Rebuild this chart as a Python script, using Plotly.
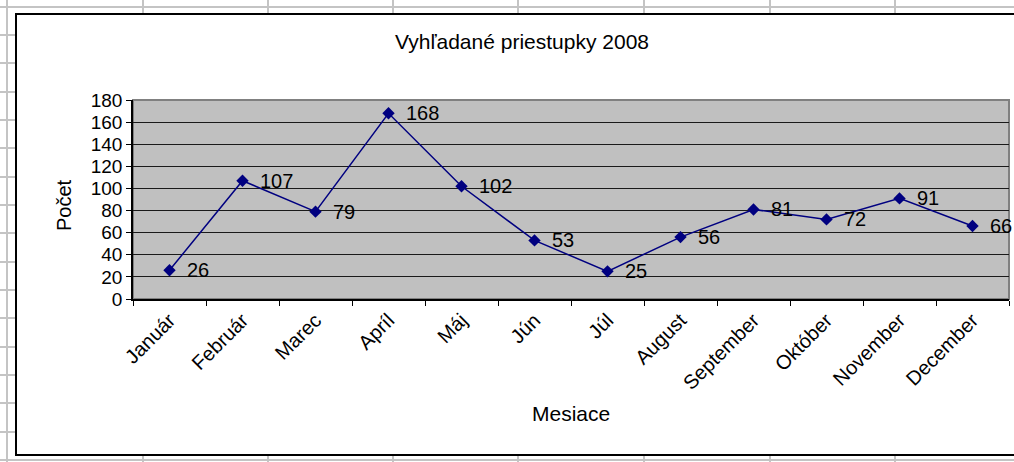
import plotly.graph_objects as go

# ---- data ----
months = ["Január", "Február", "Marec", "Apríl", "Máj", "Jún", "Júl",
          "August", "September", "Október", "November", "December"]
values = [26, 107, 79, 168, 102, 53, 25, 56, 81, 72, 91, 66]
title_text = "Vyhľadané priestupky 2008"
x_title = "Mesiace"
y_title = "Počet"
y_ticks = [0, 20, 40, 60, 80, 100, 120, 140, 160, 180]

W, H = 1014, 462
L, R, T, B = 133, 5, 100, 163
PW, PH = W - L - R, H - T - B
FONT = "Liberation Sans, Arial, sans-serif"
NAVY = "#000080"


def px(xp):
    return (xp - L) / PW


def py(yp):
    return (H - B - yp) / PH


fig = go.Figure()
fig.add_trace(go.Scatter(
    x=months, y=values, mode="lines+markers",
    line=dict(color=NAVY, width=1.5),
    marker=dict(symbol="diamond", size=9.5, color=NAVY),
    showlegend=False, hoverinfo="x+y",
))

shapes = []
# spreadsheet grid behind the chart object
for xv in [7, 143, 268, 393, 518, 644, 770, 895]:
    shapes.append(dict(type="line", xref="paper", yref="paper", layer="below",
                       x0=px(xv), x1=px(xv), y0=py(-5), y1=py(H + 5),
                       line=dict(color="#C4C4C4", width=2)))
for yv in [7, 35, 63, 92, 120, 148, 177, 205, 233, 262, 290, 318, 347, 375, 403, 432, 460]:
    shapes.append(dict(type="line", xref="paper", yref="paper", layer="below",
                       x0=px(-5), x1=px(W + 5), y0=py(yv), y1=py(yv),
                       line=dict(color="#C4C4C4", width=2)))
# chart frame
shapes.append(dict(type="rect", xref="paper", yref="paper", layer="below",
                   x0=px(16), x1=px(W + 10), y0=py(455), y1=py(14),
                   fillcolor="white", line=dict(color="black", width=2)))
# plot area
shapes.append(dict(type="rect", xref="paper", yref="paper", layer="below",
                   x0=0, x1=1, y0=0, y1=1,
                   fillcolor="#C0C0C0", line=dict(color="#808080", width=2)))

annotations = []
for m, v in zip(months, values):
    annotations.append(dict(x=m, y=v, xref="x", yref="y", text=str(v),
                            showarrow=False, xanchor="left", yanchor="middle",
                            xshift=15, font=dict(size=20, color="black", family=FONT)))
annotations.append(dict(x=px(571), y=py(413), xref="paper", yref="paper",
                        text=x_title, showarrow=False, xanchor="center", yanchor="middle",
                        font=dict(size=21, color="black", family=FONT)))
annotations.append(dict(x=px(64), y=py(205), xref="paper", yref="paper",
                        text=y_title, showarrow=False, xanchor="center", yanchor="middle",
                        textangle=-90, font=dict(size=20, color="black", family=FONT)))

fig.update_layout(
    width=W, height=H,
    margin=dict(l=L, r=R, t=T, b=B, pad=0),
    paper_bgcolor="white",
    plot_bgcolor="rgba(0,0,0,0)",
    font=dict(family=FONT, color="black", size=18),
    title=dict(text=title_text, x=px(522), xref="paper", xanchor="center",
               y=1 - 42 / H, yref="container", yanchor="middle",
               font=dict(size=21, color="black", family=FONT)),
    shapes=shapes,
    annotations=annotations,
    xaxis=dict(type="category", range=[-0.5, len(months) - 0.5],
               tickson="boundaries", ticks="outside", ticklen=5, tickcolor="black",
               tickangle=-45, tickfont=dict(size=20, color="black", family=FONT),
               showgrid=False, showline=True, linecolor="black", linewidth=1.5,
               fixedrange=True, automargin=False),
    yaxis=dict(range=[0, 180], tickvals=y_ticks, ticks="outside", ticklen=5,
               tickcolor="black", tickfont=dict(size=19, color="black", family=FONT),
               showgrid=True, gridcolor="#1a1a1a", gridwidth=1,
               showline=True, linecolor="black", linewidth=1.5,
               zeroline=False, fixedrange=True, automargin=False),
)

fig.write_html(
    "out.html",
    config={"displayModeBar": False},
    post_script="document.body.style.margin='0';document.body.style.overflow='hidden';",
)
